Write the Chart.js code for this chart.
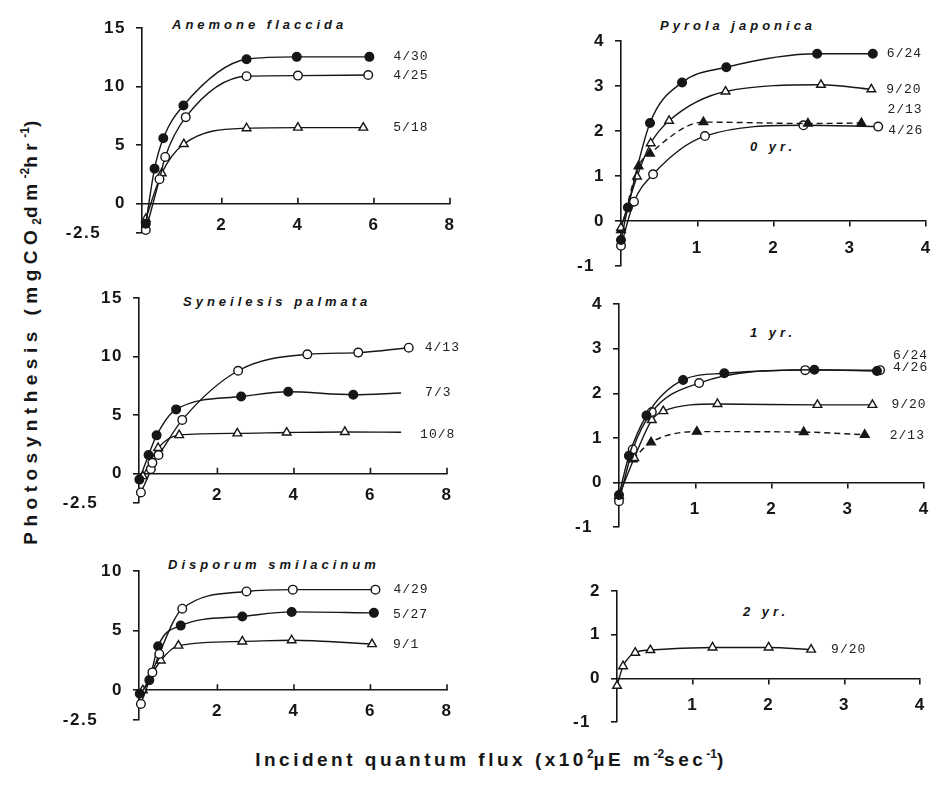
<!DOCTYPE html>
<html>
<head>
<meta charset="utf-8">
<title>Photosynthesis light curves</title>
<script src="https://cdn.jsdelivr.net/npm/chart.js@4.4.1/dist/chart.umd.min.js"></script>
<style>
  html, body { margin: 0; background: #fff; }
  body { position: relative; width: 931px; height: 786px; overflow: hidden;
         font-family: "Liberation Sans", Arial, sans-serif; color: #161616; }
  canvas { position: absolute; }
  .name { position: absolute; font-size: 13px; line-height: 14px; font-weight: bold;
          font-style: italic; letter-spacing: 4px; white-space: nowrap; }
  .axis-title { position: absolute; font-size: 19px; line-height: 22px; font-weight: bold;
                letter-spacing: 3.5px; white-space: nowrap; transform: translate(-50%, -50%); }
  .axis-title.vertical { letter-spacing: 5.5px; transform: translate(-50%, -50%) rotate(-90deg); }
  .axis-title sup { font-size: 12px; vertical-align: 8px; letter-spacing: 0; }
  .axis-title sub { font-size: 12px; vertical-align: -4px; letter-spacing: 0; }
</style>
</head>
<body>
<div class="name" style="left:172px;top:18px">Anemone flaccida</div>
<div class="name" style="left:660px;top:19px">Pyrola japonica</div>
<div class="name" style="left:183px;top:295px">Syneilesis palmata</div>
<div class="name" style="left:168px;top:558px">Disporum smilacinum</div>
<div class="name" style="left:750px;top:140px">0 yr.</div>
<div class="name" style="left:750px;top:326px">1 yr.</div>
<div class="name" style="left:743px;top:605px">2 yr.</div>
<div class="axis-title" style="left:491px;top:757px">Incident quantum flux (x10<sup>2</sup>µE m<sup>-2</sup>sec<sup>-1</sup>)</div>
<div class="axis-title vertical" style="left:31px;top:330px">Photosynthesis (mgCO<sub>2</sub>dm<sup>-2</sup>hr<sup>-1</sup>)</div>

<script>
// data: [x, y] pairs, x = quantum flux (x10^2 uE m-2 s-1), y = mgCO2 dm-2 hr-1

// Anemone flaccida
const anemone_0430 = [[0, -1.7], [0.23, 3.0], [0.46, 5.6], [0.99, 8.4], [2.65, 12.35], [3.97, 12.55], [5.88, 12.55]];
const anemone_0425 = [[0, -2.25], [0.36, 2.1], [0.51, 4.0], [1.05, 7.4], [2.65, 10.9], [4.0, 10.95], [5.85, 11.0]];
const anemone_0518 = [[0, -1.3], [0.42, 2.6], [1.0, 5.1], [2.65, 6.45], [4.0, 6.5], [5.72, 6.5]];

// Syneilesis palmata (last point of 7/3 and 10/8 is the curve end, no marker)
const syneilesis_0413 = [[0, -1.6], [0.26, 0.4], [0.3, 0.93], [0.46, 1.6], [1.08, 4.6], [2.54, 8.8], [4.35, 10.2], [5.68, 10.35], [7.0, 10.77]];
const syneilesis_0703 = [[-0.04, -0.5], [0.2, 1.6], [0.41, 3.28], [0.92, 5.5], [2.62, 6.6], [3.85, 7.0], [5.55, 6.75], [6.8, 6.9]];
const syneilesis_1008 = [[0.05, -0.2], [0.45, 2.2], [1.0, 3.3], [2.52, 3.45], [3.81, 3.52], [5.33, 3.57], [6.8, 3.55]];

// Disporum smilacinum
const disporum_0429 = [[0, -1.15], [0.3, 1.5], [0.48, 3.05], [1.08, 6.85], [2.76, 8.3], [3.97, 8.45], [6.13, 8.45]];
const disporum_0527 = [[-0.03, -0.3], [0.22, 0.85], [0.45, 3.7], [1.04, 5.43], [2.65, 6.2], [3.94, 6.58], [6.09, 6.5]];
const disporum_0901 = [[0.05, 0], [0.52, 2.5], [0.98, 3.75], [2.65, 4.1], [3.94, 4.2], [6.04, 3.87]];

// Pyrola japonica, 0 yr leaves
const pyrola0_0624 = [[0, -0.42], [0.09, 0.3], [0.38, 2.18], [0.8, 3.08], [1.38, 3.42], [2.57, 3.72], [3.3, 3.72]];
const pyrola0_0920 = [[0, -0.15], [0.21, 0.99], [0.39, 1.73], [0.63, 2.23], [1.37, 2.88], [2.62, 3.03], [3.28, 2.93]];
const pyrola0_0213 = [[0, -0.2], [0.23, 1.22], [0.38, 1.5], [1.08, 2.2], [2.45, 2.17], [3.15, 2.18]];
const pyrola0_0426 = [[0, -0.55], [0.17, 0.43], [0.42, 1.04], [1.1, 1.89], [2.39, 2.13], [3.37, 2.1]];

// Pyrola japonica, 1 yr leaves
const pyrola1_0624 = [[0, -0.28], [0.13, 0.6], [0.36, 1.5], [0.84, 2.3], [1.38, 2.45], [2.56, 2.53], [3.38, 2.5]];
const pyrola1_0426 = [[0, -0.42], [0.18, 0.74], [0.43, 1.58], [1.05, 2.23], [2.44, 2.52], [3.42, 2.52]];
const pyrola1_0920 = [[0, -0.3], [0.2, 0.55], [0.43, 1.4], [0.58, 1.6], [1.29, 1.76], [2.6, 1.74], [3.32, 1.74]];
const pyrola1_0213 = [[0.18, 0.52], [0.42, 0.9], [1.02, 1.14], [2.42, 1.13], [3.22, 1.07]];

// Pyrola japonica, 2 yr leaves
const pyrola2_0920 = [[0, -0.17], [0.08, 0.28], [0.24, 0.59], [0.44, 0.65], [1.26, 0.71], [2.0, 0.71], [2.56, 0.66]];

// tick labels
const herbXTicks = [2, 4, 6, 8];
const herbYTicks = [-2.5, 0, 5, 10, 15];
const disporumYTicks = [-2.5, 0, 5, 10];
const pyrolaXTicks = [1, 2, 3, 4];
const pyrolaYTicks = [-1, 0, 1, 2, 3, 4];
const pyrola2YTicks = [-1, 0, 1, 2];

const INK = '#161616';
const Y_AXIS_W = 92, PAD_T = 14, PAD_R = 16, PAD_B = 34;
const TICK_FONT = { family: '"Liberation Sans", Arial, sans-serif', size: 17, weight: 'bold' };

const MARKS = {
  dot:     { style: 'circle',   fill: INK,    r: 4.3 },
  ring:    { style: 'circle',   fill: '#fff', r: 4.3 },
  tri:     { style: 'triangle', fill: '#fff', r: 5 },
  triFill: { style: 'triangle', fill: INK,    r: 5 }
};

function series(label, points, mark, extra = {}) {
  return Object.assign({ label, points, mark, dx: 14, dy: 0 }, extra);
}

const panels = [
  { box: { axisX: 142, top: 22, right: 450, bottom: 233 }, x: [-0.1, 8], y: [-2.5, 15],
    xTicks: herbXTicks, yTicks: herbYTicks, tickUp: true, lines: [
      series('4/30', anemone_0430, 'dot', { dx: 24 }),
      series('4/25', anemone_0425, 'ring', { dx: 25, dy: 1 }),
      series('5/18', anemone_0518, 'tri', { dx: 30 })
    ] },
  { box: { axisX: 139, top: 292, right: 447, bottom: 503 }, x: [-0.05, 8], y: [-2.5, 15],
    xTicks: herbXTicks, yTicks: herbYTicks, tickUp: true, lines: [
      series('4/13', syneilesis_0413, 'ring', { dx: 16 }),
      series('7/3', syneilesis_0703, 'dot', { dx: 24, tail: true }),
      series('10/8', syneilesis_1008, 'tri', { dx: 19, dy: 2, tail: true })
    ] },
  { box: { axisX: 139, top: 565, right: 447, bottom: 720 }, x: [-0.05, 8], y: [-2.5, 10],
    xTicks: herbXTicks, yTicks: disporumYTicks, tickUp: true, lines: [
      series('4/29', disporum_0429, 'ring', { dx: 18 }),
      series('5/27', disporum_0527, 'dot', { dx: 19, dy: 2 }),
      series('9/1', disporum_0901, 'tri', { dx: 21 })
    ] },
  { box: { axisX: 621, top: 35, right: 927, bottom: 266 }, x: [0, 4], y: [-1, 4],
    xTicks: pyrolaXTicks, yTicks: pyrolaYTicks, tickUp: false, lines: [
      series('6/24', pyrola0_0624, 'dot', { dx: 14 }),
      series('9/20', pyrola0_0920, 'tri', { dx: 15 }),
      series('2/13', pyrola0_0213, 'triFill', { dx: 26, dy: -13, dashed: true }),
      series('4/26', pyrola0_0426, 'ring', { dx: 10, dy: 4 })
    ] },
  { box: { axisX: 619, top: 298, right: 925, bottom: 527 }, x: [0, 4], y: [-1, 4],
    xTicks: pyrolaXTicks, yTicks: pyrolaYTicks, tickUp: false, lines: [
      series('6/24', pyrola1_0624, 'dot', { dx: 16, dy: -15 }),
      series('4/26', pyrola1_0426, 'ring', { dx: 13, dy: -3 }),
      series('9/20', pyrola1_0920, 'tri', { dx: 19 }),
      series('2/13', pyrola1_0213, 'triFill', { dx: 25, dy: 1, dashed: true })
    ] },
  { box: { axisX: 617, top: 585, right: 921, bottom: 722 }, x: [0, 4], y: [-1, 2],
    xTicks: pyrolaXTicks, yTicks: pyrola2YTicks, tickUp: false, lines: [
      series('9/20', pyrola2_0920, 'tri', { dx: 20 })
    ] }
];

// upward x ticks (herb panels) and the date tags at the end of each curve
const panelMarks = {
  id: 'panelMarks',
  beforeDraw(chart) {
    chart.ctx.letterSpacing = '1.5px';
  },
  afterDraw(chart, args, opts) {
    const { ctx } = chart;
    const xs = chart.scales.x, ys = chart.scales.y;
    const y0 = ys.getPixelForValue(0);
    ctx.save();
    if (opts.tickUp) {
      ctx.strokeStyle = INK;
      ctx.lineWidth = 1.6;
      ctx.beginPath();
      opts.xTicks.forEach(v => {
        const px = xs.getPixelForValue(v);
        ctx.moveTo(px, y0);
        ctx.lineTo(px, y0 - 6);
      });
      ctx.stroke();
    }
    ctx.font = '13px "Liberation Mono", "DejaVu Sans Mono", monospace';
    ctx.letterSpacing = '1px';
    ctx.fillStyle = '#222';
    ctx.textBaseline = 'middle';
    chart.data.datasets.forEach((ds, i) => {
      const pts = chart.getDatasetMeta(i).data;
      const last = pts[pts.length - 1];
      ctx.fillText(ds.label, last.x + ds.tagDx, last.y + ds.tagDy);
    });
    ctx.restore();
  }
};

function fixedTicks(values) {
  return scale => { scale.ticks = values.map(v => ({ value: v })); };
}

// the lowest tick label sits further left of the axis than the others
function yLabel(v) {
  if (v === -2.5) return '-2.5\u2002\u2002\u2009';
  if (v === -1) return '-1\u2002';
  return String(v);
}

function drawPanel(p) {
  const b = p.box;
  const canvas = document.createElement('canvas');
  const w = b.right - b.axisX + Y_AXIS_W + PAD_R;
  const h = b.bottom - b.top + PAD_T + PAD_B;
  canvas.width = w;
  canvas.height = h;
  canvas.style.left = (b.axisX - Y_AXIS_W) + 'px';
  canvas.style.top = (b.top - PAD_T) + 'px';
  canvas.style.width = w + 'px';
  canvas.style.height = h + 'px';
  document.body.appendChild(canvas);

  const datasets = p.lines.map(s => {
    const m = MARKS[s.mark];
    return {
      label: s.label,
      data: s.points.map(([x, y]) => ({ x, y })),
      showLine: true,
      borderColor: INK,
      borderWidth: 1.4,
      borderDash: s.dashed ? [6, 4] : [],
      cubicInterpolationMode: 'monotone',
      pointStyle: m.style,
      pointRadius: s.points.map((_, i) => (s.tail && i === s.points.length - 1 ? 0 : m.r)),
      pointBackgroundColor: m.fill,
      pointBorderColor: INK,
      pointBorderWidth: 1.4,
      clip: false,
      tagDx: s.dx,
      tagDy: s.dy
    };
  });

  new Chart(canvas, {
    type: 'scatter',
    data: { datasets },
    plugins: [panelMarks],
    options: {
      responsive: false,
      animation: false,
      devicePixelRatio: 1,
      layout: { padding: { left: 0, top: PAD_T, right: PAD_R, bottom: PAD_B } },
      plugins: {
        legend: { display: false },
        tooltip: { enabled: false },
        panelMarks: { tickUp: p.tickUp, xTicks: p.xTicks }
      },
      scales: {
        x: {
          type: 'linear',
          min: p.x[0], max: p.x[1],
          position: { y: 0 },
          afterFit: s => { s.height = 0; },
          afterBuildTicks: fixedTicks(p.xTicks),
          grid: { drawOnChartArea: false, drawTicks: !p.tickUp, tickLength: 5, color: INK, lineWidth: 1.6 },
          border: { display: true, color: INK, width: 1.6 },
          ticks: { font: TICK_FONT, color: INK, padding: p.tickUp ? 11 : 12, maxRotation: 0, autoSkip: false }
        },
        y: {
          type: 'linear',
          min: p.y[0], max: p.y[1],
          afterFit: s => { s.width = Y_AXIS_W; },
          afterBuildTicks: fixedTicks(p.yTicks),
          grid: { drawOnChartArea: false, drawTicks: true, tickLength: 6, color: INK, lineWidth: 1.6 },
          border: { display: true, color: INK, width: 1.6 },
          ticks: { font: TICK_FONT, color: INK, padding: 10, callback: yLabel }
        }
      }
    }
  });
}

panels.forEach(drawPanel);
</script>
</body>
</html>
